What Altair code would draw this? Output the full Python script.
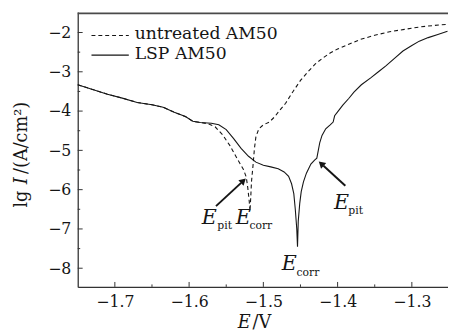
import math
import altair as alt
import pandas as pd

# ---------------- data ----------------
series_names = ["untreated AM50", "LSP AM50"]

unt_E = [-1.750, -1.730, -1.710, -1.690, -1.670, -1.650, -1.635, -1.620, -1.605, -1.595,
         -1.585, -1.575, -1.565, -1.555, -1.545, -1.535, -1.527, -1.523, -1.521, -1.519,
         -1.518, -1.517, -1.516, -1.514, -1.512, -1.510, -1.506, -1.500, -1.492, -1.485,
         -1.478, -1.470, -1.460, -1.450, -1.440, -1.430, -1.420, -1.410, -1.400, -1.385,
         -1.370, -1.350, -1.330, -1.310, -1.290, -1.270, -1.252]
unt_lgI = [-3.33, -3.45, -3.57, -3.67, -3.78, -3.84, -3.90, -4.03, -4.14, -4.26,
           -4.29, -4.32, -4.40, -4.60, -4.88, -5.22, -5.48, -5.68, -5.95, -6.30,
           -6.55, -6.20, -5.80, -5.40, -4.95, -4.65, -4.45, -4.35, -4.28, -4.15,
           -3.98, -3.80, -3.50, -3.22, -3.00, -2.80, -2.65, -2.52, -2.42, -2.30,
           -2.18, -2.07, -1.98, -1.92, -1.86, -1.82, -1.79]

lsp_E = [-1.750, -1.730, -1.710, -1.690, -1.670, -1.650, -1.635, -1.620, -1.605, -1.595,
         -1.585, -1.570, -1.560, -1.550, -1.540, -1.530, -1.520, -1.510, -1.500, -1.490,
         -1.480, -1.472, -1.466, -1.462, -1.459, -1.457, -1.455, -1.454, -1.453, -1.451,
         -1.449, -1.446, -1.442, -1.436, -1.431, -1.428, -1.426, -1.424, -1.421, -1.416,
         -1.410, -1.406, -1.404, -1.400, -1.393, -1.385, -1.378, -1.368, -1.355, -1.345,
         -1.335, -1.323, -1.312, -1.300, -1.290, -1.278, -1.265, -1.252]
lsp_lgI = [-3.33, -3.45, -3.57, -3.67, -3.78, -3.84, -3.90, -4.03, -4.14, -4.26,
           -4.29, -4.31, -4.35, -4.47, -4.70, -4.95, -5.15, -5.30, -5.38, -5.42,
           -5.47, -5.55, -5.66, -5.85, -6.10, -6.50, -7.00, -7.45, -6.80, -6.35,
           -6.05, -5.80, -5.58, -5.35, -5.25, -5.20, -5.00, -4.80, -4.62, -4.45,
           -4.35, -4.28, -4.12, -4.02, -3.85, -3.68, -3.52, -3.33, -3.15, -3.00,
           -2.85, -2.65, -2.47, -2.33, -2.22, -2.13, -2.05, -1.97]

x_major = [-1.7, -1.6, -1.5, -1.4, -1.3]
x_minor = [-1.65, -1.55, -1.45, -1.35]
y_major = [-2, -3, -4, -5, -6, -7, -8]
y_minor = [-2.5, -3.5, -4.5, -5.5, -6.5, -7.5]

# annotation labels (E with subscript), anchored in data coordinates
ann_sub = ["pit", "corr", "corr", "pit"]
ann_E_x = [-1.5830, -1.5373, -1.4751, -1.4050]
ann_E_y = [-6.875, -6.875, -8.05, -6.50]
ann_sub_x = [-1.5620, -1.5188, -1.4553, -1.3855]
ann_sub_y = [-7.00, -7.00, -8.20, -6.625]

arrow_tail_x = [-1.5638, -1.3896]
arrow_tail_y = [-6.42, -5.90]
arrow_tip_x = [-1.5241, -1.4249]
arrow_tip_y = [-5.725, -5.29]

# ---------------- layout / style ----------------
W, H = 377, 280
X0, X1 = -1.75, -1.75 + 377 / 756
Y0, Y1 = -8.475, -1.475
XS = W / (X1 - X0)
YS = H / (Y1 - Y0)
SERIF = "DejaVu Serif"
INK = "#151515"

xs = alt.Scale(domain=[X0, X1], nice=False, zero=False)
ys = alt.Scale(domain=[Y0, Y1], nice=False, zero=False)

df_unt = pd.DataFrame({"E": unt_E, "lgI": unt_lgI, "i": range(len(unt_E))})
df_lsp = pd.DataFrame({"E": lsp_E, "lgI": lsp_lgI, "i": range(len(lsp_E))})

line_unt = alt.Chart(df_unt).mark_line(color=INK, strokeWidth=1.1, strokeDash=[4, 3]).encode(
    x=alt.X("E:Q", scale=xs,
            axis=alt.Axis(values=x_major, format=".1f", ticks=False, grid=False, title=None,
                          domainColor="#333", domainWidth=1.3, labelFont=SERIF, labelFontSize=16,
                          labelColor=INK, labelPadding=7)),
    y=alt.Y("lgI:Q", scale=ys,
            axis=alt.Axis(values=y_major, format="d", ticks=False, grid=False, title=None,
                          domainColor="#333", domainWidth=1.3, labelFont=SERIF, labelFontSize=16,
                          labelColor=INK, labelPadding=7)),
    order="i:Q",
)
line_lsp = alt.Chart(df_lsp).mark_line(color=INK, strokeWidth=1.1).encode(
    x=alt.X("E:Q", scale=xs), y=alt.Y("lgI:Q", scale=ys), order="i:Q"
)

# inward ticks
def xticks(vals, length):
    return alt.Chart(pd.DataFrame({"v": vals})).mark_rule(color="#333", strokeWidth=1).encode(
        x=alt.X("v:Q", scale=xs), y=alt.value(H), y2=alt.value(H - length))

def yticks(vals, length):
    return alt.Chart(pd.DataFrame({"v": vals})).mark_rule(color="#333", strokeWidth=1).encode(
        y=alt.Y("v:Q", scale=ys), x=alt.value(0), x2=alt.value(length))

one = pd.DataFrame({"k": [0]})
top_border = alt.Chart(one).mark_rule(color="#4a4a4a", strokeWidth=1.6).encode(
    x=alt.value(0), x2=alt.value(W), y=alt.value(1.5))

# legend
leg_layers = []
for name, ypix, dashed in [(series_names[0], 24, True), (series_names[1], 44, False)]:
    base = alt.Chart(pd.DataFrame({"label": [name]}))
    if dashed:
        ln = base.mark_rule(color=INK, strokeWidth=1.1, strokeDash=[4, 3])
    else:
        ln = base.mark_rule(color=INK, strokeWidth=1.1)
    leg_layers.append(ln.encode(x=alt.value(14), x2=alt.value(52), y=alt.value(ypix)))
    leg_layers.append(base.mark_text(align="left", baseline="middle", font=SERIF, fontSize=17.5,
                                     color=INK).encode(x=alt.value(58), y=alt.value(ypix - 1),
                                                       text="label:N"))

# annotations: E (italic) + subscript
ann_E = alt.Chart(pd.DataFrame({"x": ann_E_x, "y": ann_E_y, "t": ["E"] * len(ann_E_x)})).mark_text(
    align="left", baseline="alphabetic", font=SERIF, fontStyle="italic", fontSize=21, color=INK
).encode(x=alt.X("x:Q", scale=xs), y=alt.Y("y:Q", scale=ys), text="t:N")
ann_S = alt.Chart(pd.DataFrame({"x": ann_sub_x, "y": ann_sub_y, "t": ann_sub})).mark_text(
    align="left", baseline="alphabetic", font=SERIF, fontSize=11, color=INK
).encode(x=alt.X("x:Q", scale=xs), y=alt.Y("y:Q", scale=ys), text="t:N")

# arrows
rows = []
for tx, ty, hx, hy in zip(arrow_tail_x, arrow_tail_y, arrow_tip_x, arrow_tip_y):
    dxp = (hx - tx) * XS
    dyp = -(hy - ty) * YS
    L = math.hypot(dxp, dyp)
    ux, uy = dxp / L, dyp / L
    ang = math.degrees(math.atan2(ux, -uy)) % 360
    rows.append({
        "tx": tx, "ty": ty,
        "sx": hx - 6 * ux / XS, "sy": hy + 6 * uy / YS,
        "cx": hx - 4 * ux / XS, "cy": hy + 4 * uy / YS,
        "ang": ang,
    })
arr = pd.DataFrame(rows)
shaft = alt.Chart(arr).mark_rule(color=INK, strokeWidth=2).encode(
    x=alt.X("tx:Q", scale=xs), y=alt.Y("ty:Q", scale=ys), x2="sx:Q", y2="sy:Q")
head = alt.Chart(arr).mark_point(shape="triangle", filled=True, size=60, color=INK, opacity=1).encode(
    x=alt.X("cx:Q", scale=xs), y=alt.Y("cy:Q", scale=ys), angle=alt.Angle("ang:Q", scale=None))

# axis titles built from text pieces (italic variable names)
def txt(text, x, y, **kw):
    return alt.Chart(pd.DataFrame({"t": [text]})).mark_text(font=SERIF, color=INK, **kw).encode(
        x=alt.value(x), y=alt.value(y), text="t:N")

ytitle = [
    txt("lg", -57, 182, angle=270, align="right", baseline="middle", fontSize=18),
    txt("I", -57, 172, angle=270, align="center", baseline="middle", fontSize=18, fontStyle="italic"),
    txt("/(A/cm²)", -57, 165, angle=270, align="left", baseline="middle", fontSize=18),
]
xtitle = [
    txt("E", 163, 322, align="left", baseline="alphabetic", fontSize=18, fontStyle="italic"),
    txt("/V", 178, 322, align="left", baseline="alphabetic", fontSize=18),
]

chart = alt.layer(
    line_unt, line_lsp,
    xticks(x_major, 5), xticks(x_minor, 2.5), yticks(y_major, 5), yticks(y_minor, 2.5),
    top_border, *leg_layers, ann_E, ann_S, shaft, head, *ytitle, *xtitle,
).properties(
    width=W, height=H,
    padding={"left": 71, "top": 1, "right": 0, "bottom": 44},
    autosize=alt.AutoSizeParams(type="none"),
    background="white",
).configure_view(stroke=None)

chart.save("out.html", embed_options={"renderer": "svg", "actions": False})
